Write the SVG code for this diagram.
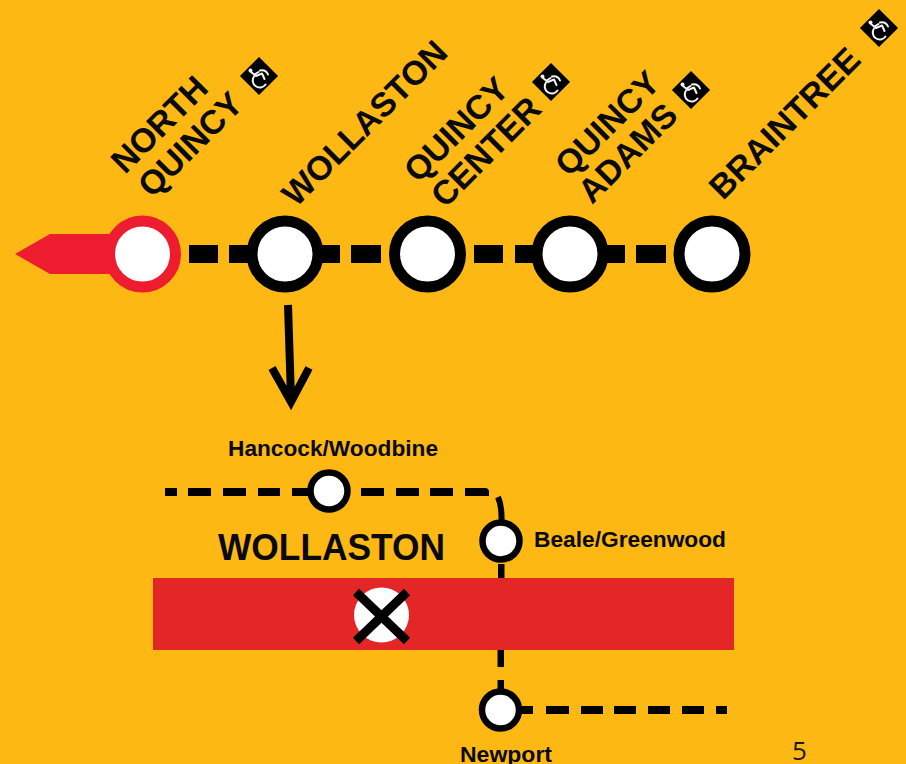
<svg xmlns="http://www.w3.org/2000/svg" width="906" height="764" viewBox="0 0 906 764">
<style>
text{font-family:"Liberation Sans",Arial,sans-serif;font-weight:700;fill:#0a0a0a}
.big{font-size:33.8px}
.small{font-size:22px}
.st{fill:#fff;stroke:#000;stroke-width:11}
.sm{fill:#fff;stroke:#000;stroke-width:6.5}
.dash{fill:#000}
.wc{fill:none;stroke:#f4f4f4;stroke-width:2;stroke-linecap:round;stroke-linejoin:round}
</style>
<defs>
<g id="access">
<rect x="-13.500" y="-13.500" width="27" height="27" transform="rotate(45)" fill="#000"/>
<circle cx="-8.500" cy="-5.500" r="2" fill="#f4f4f4"/>
<path class="wc" d="M-8-4L-3 0 3-2.500 5.500 3M-4.500-1.500L-.5-4"/>
<path class="wc" d="M-5 .5A7 7 0 1 0 6.500 8.500M1-5.500Q7-6.500 9-1.500"/>
</g>
</defs>
<rect width="906" height="764" fill="#fdb813"/>
<g id="connectors">
<path class="dash" d="M189 245h29v18h-29zM229 245h30v18h-30zM312 245h28v18h-28zM351 245h30v18h-30zM474 245h29v18h-29zM515 245h30v18h-30zM596 245h29v18h-29zM636 245h30v18h-30z"/>
<path d="M288 305L291 398M272 368L291 402 309 368" fill="none" stroke="#000" stroke-width="8"/>
<path class="dash" d="M165 488h12v8h-12zM188 488h23v8h-23zM223 488h23v8h-23zM258 488h22v8h-22zM292 488h20v8h-20zM361 488h23v8h-23zM396 488h23v8h-23zM430 488h23v8h-23zM465 488h20q4 0 4 4v4l-4 0h-20z"/>
<path d="M498 497Q502 506 501.500 522" fill="none" stroke="#000" stroke-width="6"/>
<path class="dash" d="M498 564h6.500v14h-6.500zM497.500 650h6.500v17h-6.500zM497.500 680h6.500v12h-6.500zM515 706h18v8h-18zM546 706h23v8h-23zM581 706h22v8h-22zM614 706h22v8h-22zM648 706h22v8h-22zM682 706h22v8h-22zM716 706h11v8h-11z"/>
</g>
<g id="north-quincy">
<path d="M15 254L50 234H125V274H50Z" fill="#ed1c2e"/>
<circle class="st" cx="142.500" cy="254" r="33" style="stroke:#ed1c2e"/>
<text class="big" transform="translate(125 175) rotate(-45)">NORTH</text>
<text class="big" transform="translate(152 199) rotate(-45)">QUINCY</text>
<use href="#access" x="259" y="76"/>
</g>
<g id="wollaston">
<circle class="st" cx="285" cy="254" r="33"/>
<text class="big" transform="translate(296 208) rotate(-45)">WOLLASTON</text>
</g>
<g id="quincy-center">
<circle class="st" cx="427.500" cy="254" r="33"/>
<text class="big" transform="translate(418 184) rotate(-45)">QUINCY</text>
<text class="big" transform="translate(445 209) rotate(-45)">CENTER</text>
<use href="#access" x="551" y="82"/>
</g>
<g id="quincy-adams">
<circle class="st" cx="570" cy="254" r="33"/>
<text class="big" transform="translate(569 178) rotate(-45)">QUINCY</text>
<text class="big" transform="translate(592 205) rotate(-45)">ADAMS</text>
<use href="#access" x="691" y="90"/>
</g>
<g id="braintree">
<circle class="st" cx="712" cy="254" r="33"/>
<text class="big" transform="translate(723 201) rotate(-45)">BRAINTREE</text>
<use href="#access" x="879" y="28"/>
</g>
<g id="closure">
<rect x="153" y="578" width="581" height="72" fill="#e32727"/>
<circle cx="381.500" cy="615" r="27.500" fill="#fff"/>
<path d="M356 592L407 641M407 592L356 641" stroke="#000" stroke-width="9" fill="none"/>
</g>
<g id="hancock">
<circle class="sm" cx="329" cy="491" r="18.500"/>
<text class="small" x="228" y="456" textLength="210" lengthAdjust="spacingAndGlyphs">Hancock/Woodbine</text>
</g>
<g id="beale">
<circle class="sm" cx="501" cy="541" r="18.500"/>
<text class="small" x="534" y="547" textLength="192" lengthAdjust="spacingAndGlyphs">Beale/Greenwood</text>
</g>
<g id="newport">
<circle class="sm" cx="500.500" cy="710" r="18.500"/>
<text class="small" x="460" y="762" textLength="92" lengthAdjust="spacingAndGlyphs">Newport</text>
</g>
<g id="wollaston-label">
<text x="218" y="560" font-size="37" textLength="227" lengthAdjust="spacingAndGlyphs">WOLLASTON</text>
</g>
<text x="792" y="760" style="font-family:'Open Sans','Liberation Sans',sans-serif;font-weight:400;fill:#1a1a1a" font-size="26">5</text>
</svg>
